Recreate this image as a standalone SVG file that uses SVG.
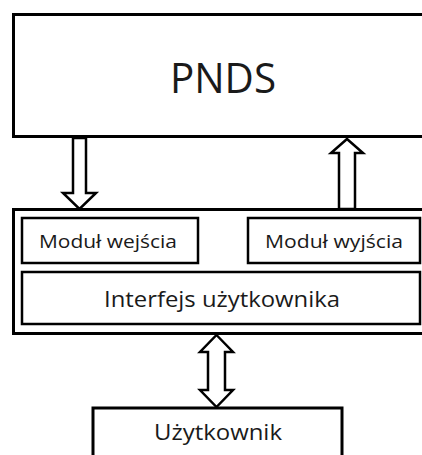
<svg xmlns="http://www.w3.org/2000/svg" width="422" height="455" viewBox="0 0 422 455">
<style>
.box{fill:#fff;stroke:#000;stroke-width:2.5}
.big{fill:#fff;stroke:#000;stroke-width:3}
.arr{fill:#fff;stroke:#000;stroke-width:2.5;stroke-linejoin:miter}
.t{font-family:"Open Sans","Liberation Sans",sans-serif;fill:#1a1a1a;text-anchor:middle}
</style>
<rect width="422" height="455" fill="#fff"/>
<g id="pnds">
<rect class="big" x="13.5" y="14.5" width="420" height="122"/>
<text class="t" x="223" y="93" font-size="42" textLength="106" lengthAdjust="spacingAndGlyphs" fill="#000">PNDS</text>
</g>
<g id="system">
<rect class="big" x="13.5" y="209.5" width="420" height="124"/>
</g>
<g id="modul-wejscia">
<rect class="box" x="22" y="218" width="176" height="45"/>
<text class="t" x="108" y="248" font-size="18" textLength="138" lengthAdjust="spacingAndGlyphs">Moduł wejścia</text>
</g>
<g id="modul-wyjscia">
<rect class="box" x="248" y="218" width="172" height="45"/>
<text class="t" x="334" y="248" font-size="18" textLength="138" lengthAdjust="spacingAndGlyphs">Moduł wyjścia</text>
</g>
<g id="interfejs">
<rect class="box" x="22" y="272" width="398" height="52"/>
<text class="t" x="222" y="307" font-size="21.5" textLength="236" lengthAdjust="spacingAndGlyphs">Interfejs użytkownika</text>
</g>
<g id="uzytkownik">
<rect class="big" x="93" y="408" width="249" height="60"/>
<text class="t" x="218" y="440" font-size="22" textLength="128" lengthAdjust="spacingAndGlyphs">Użytkownik</text>
</g>
<g id="connectors">
<polygon class="arr" points="73,138 86,138 86,193 96,193 79.5,209 63,193 73,193"/>
<polygon class="arr" points="347,139 363,153 355,153 355,209 339,209 339,153 331,153"/>
<polygon class="arr" points="216.5,335 233,352 225,352 225,390 233,390 216.5,407 200,390 208,390 208,352 200,352"/>
</g>
</svg>
